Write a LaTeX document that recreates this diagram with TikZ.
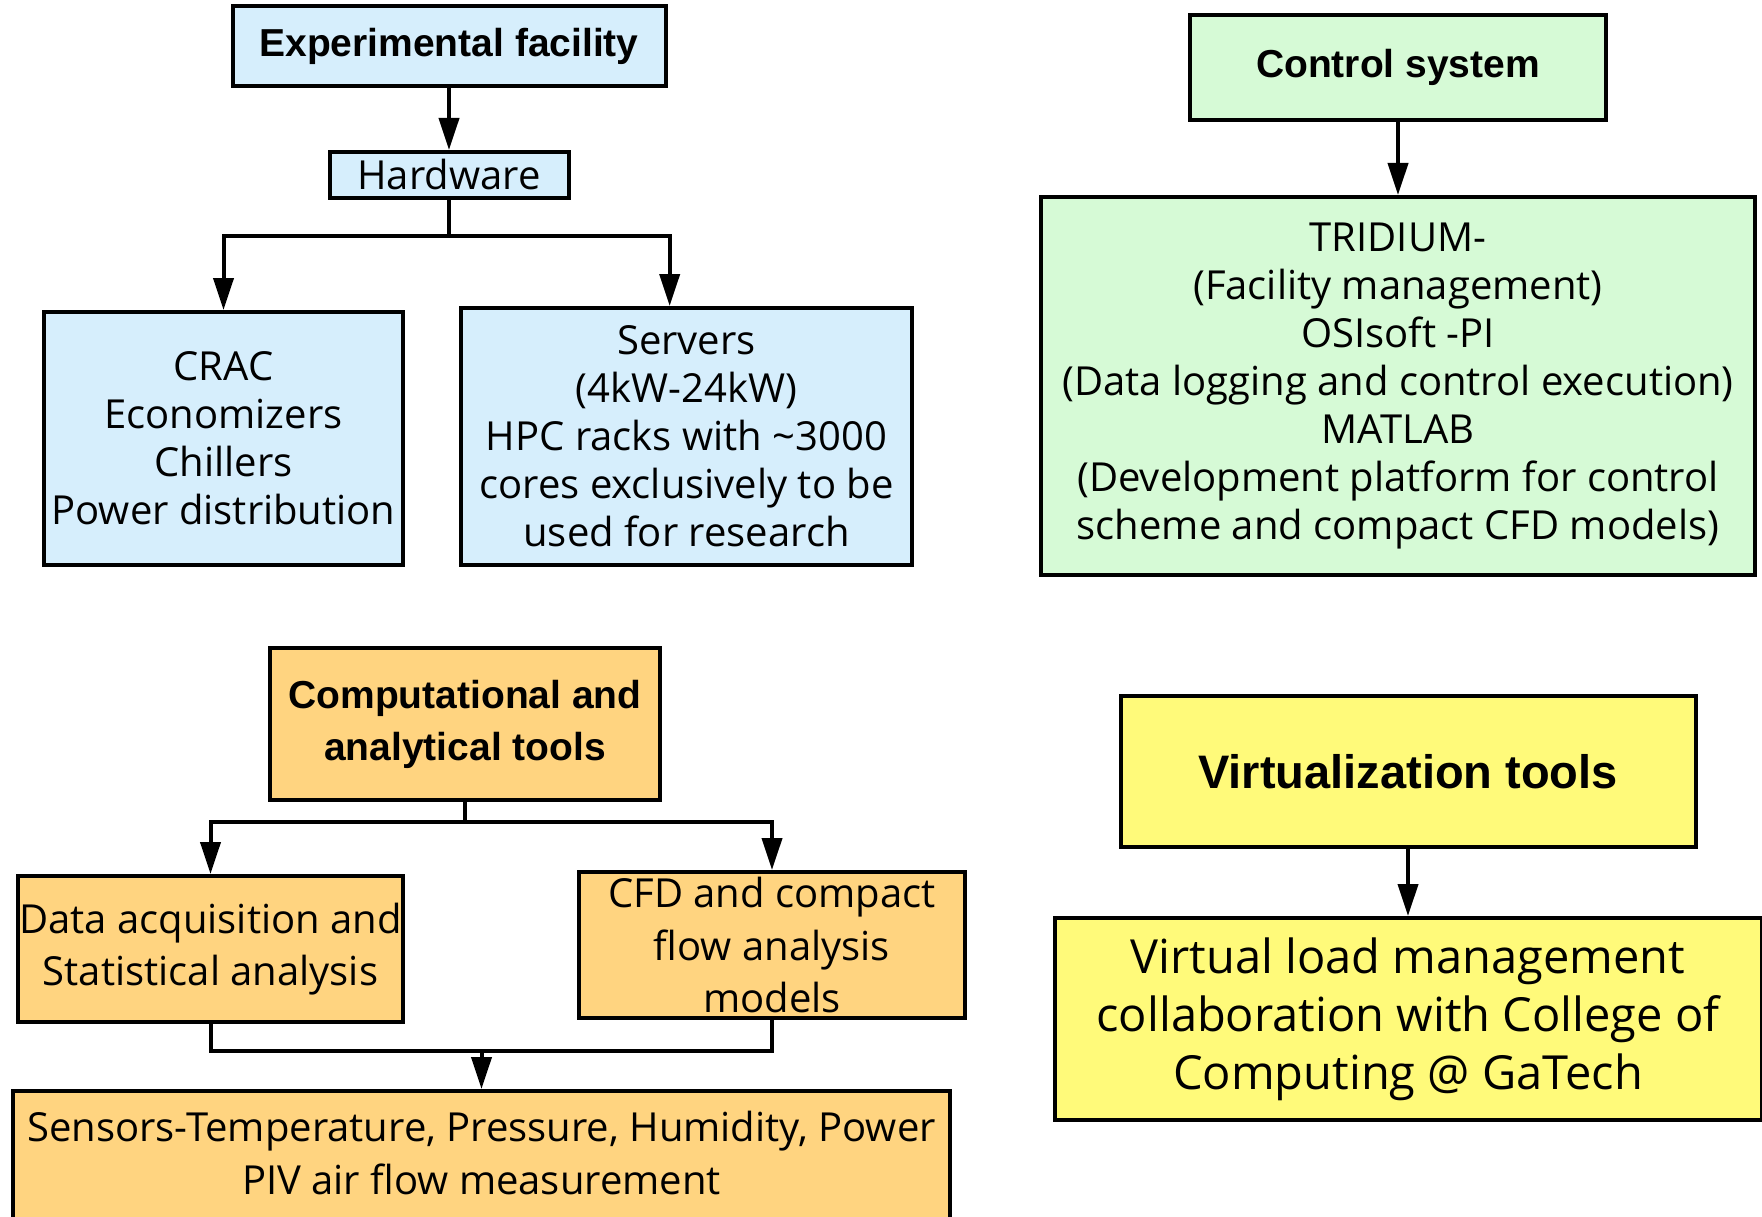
\documentclass[tikz,border=0pt]{standalone}
\usepackage{fontspec}
\usetikzlibrary{arrows.meta,calc}
\newfontfamily\bodyfont{Open Sans}
\newfontfamily\headfont{Liberation Sans}
\definecolor{facblue}{RGB}{214,238,252}
\definecolor{ctlgreen}{RGB}{214,250,214}
\definecolor{toolorange}{RGB}{255,212,128}
\definecolor{virtyellow}{RGB}{255,250,122}
\begin{document}
\begin{tikzpicture}[x=1pt,y=-1pt,
  box/.style={draw=black, line width=4pt, rectangle, align=center, inner sep=0pt},
  head/.style={font=\headfont\bfseries\fontsize{39}{52}\selectfont},
  body/.style={font=\bodyfont\fontsize{40}{48}\selectfont},
  bodywide/.style={font=\bodyfont\fontsize{40}{52.5}\selectfont},
  conn/.style={line width=4pt, draw=black},
  arr/.style={conn, -{Triangle[length=32pt,width=20pt]}}]
\useasboundingbox (0,0) rectangle (1762,1217);

% ---- Experimental facility ----
\node[box, head, fill=facblue, minimum width=433, minimum height=80] (exp) at (449,46) {Experimental facility};
\node[box, body, fill=facblue, minimum width=239, minimum height=46] (hw) at (449,175) {Hardware};
\node[box, body, fill=facblue, minimum width=359, minimum height=253] (crac) at (223.5,438.5)
  {CRAC\\Economizers\\Chillers\\Power distribution};
\node[box, body, fill=facblue, minimum width=451, minimum height=257] (serv) at (686.5,436.5)
  {Servers\\(4kW-24kW)\\HPC racks with \textasciitilde3000\\cores exclusively to be\\used for research};
\coordinate (hwsplit) at ($(hw.south)+(0,36)$);
\coordinate (servin) at ($(serv.north west)!0.463!(serv.north east)$);
\draw[arr] (exp.south) -- (hw.north);
\draw[conn] (hw.south) -- (hwsplit);
\draw[arr] (hwsplit) -| (crac.north);
\draw[arr] (hwsplit) -| (servin);

% ---- Control system ----
\node[box, head, fill=ctlgreen, minimum width=416, minimum height=105] (ctl) at (1398,67.5) {Control system};
\node[box, body, fill=ctlgreen, minimum width=714, minimum height=378] (trid) at (1398,386)
  {TRIDIUM-\\(Facility management)\\OSIsoft -PI\\(Data logging and control execution)\\MATLAB\\(Development platform for control\\scheme and compact CFD models)};
\draw[arr] (ctl.south) -- (trid.north);

% ---- Computational and analytical tools ----
\node[box, head, fill=toolorange, minimum width=390, minimum height=152] (comp) at (465,724)
  {Computational and\\analytical tools};
\node[box, bodywide, fill=toolorange, minimum width=385, minimum height=146] (daq) at (210.5,949)
  {Data acquisition and\\Statistical analysis};
\node[box, bodywide, fill=toolorange, minimum width=386, minimum height=146] (cfd) at (772,945)
  {CFD and compact\\flow analysis\\models};
\node[box, fill=toolorange, minimum width=937, minimum height=150] (sens) at (481.5,1166) {};
\node[font=\bodyfont\fontsize{40}{53}\selectfont, align=center] (senstext) at (481.5,1153)
  {Sensors-Temperature, Pressure, Humidity, Power\\PIV air flow measurement};
\coordinate (compsplit) at ($(comp.south)+(0,20)$);
\draw[conn] (comp.south) -- (compsplit);
\draw[arr] (compsplit) -| (daq.north);
\draw[arr] (compsplit) -| (cfd.north);
\coordinate (merge) at ($(sens.north)+(0,-38)$);
\draw[conn] (daq.south) |- (merge);
\draw[conn] (cfd.south) |- (merge);
\draw[arr] (merge) -- (sens.north);

% ---- Virtualization tools ----
\node[box, font=\headfont\bfseries\fontsize{47}{54}\selectfont, fill=virtyellow, minimum width=575, minimum height=151] (virt) at (1408,771.5)
  {Virtualization tools};
\node[box, font=\bodyfont\fontsize{47}{58}\selectfont, fill=virtyellow, minimum width=707, minimum height=202] (vload) at (1408,1019)
  {Virtual load management\\collaboration with College of\\Computing @ GaTech};
\draw[arr] (virt.south) -- (vload.north);
\end{tikzpicture}
\end{document}
